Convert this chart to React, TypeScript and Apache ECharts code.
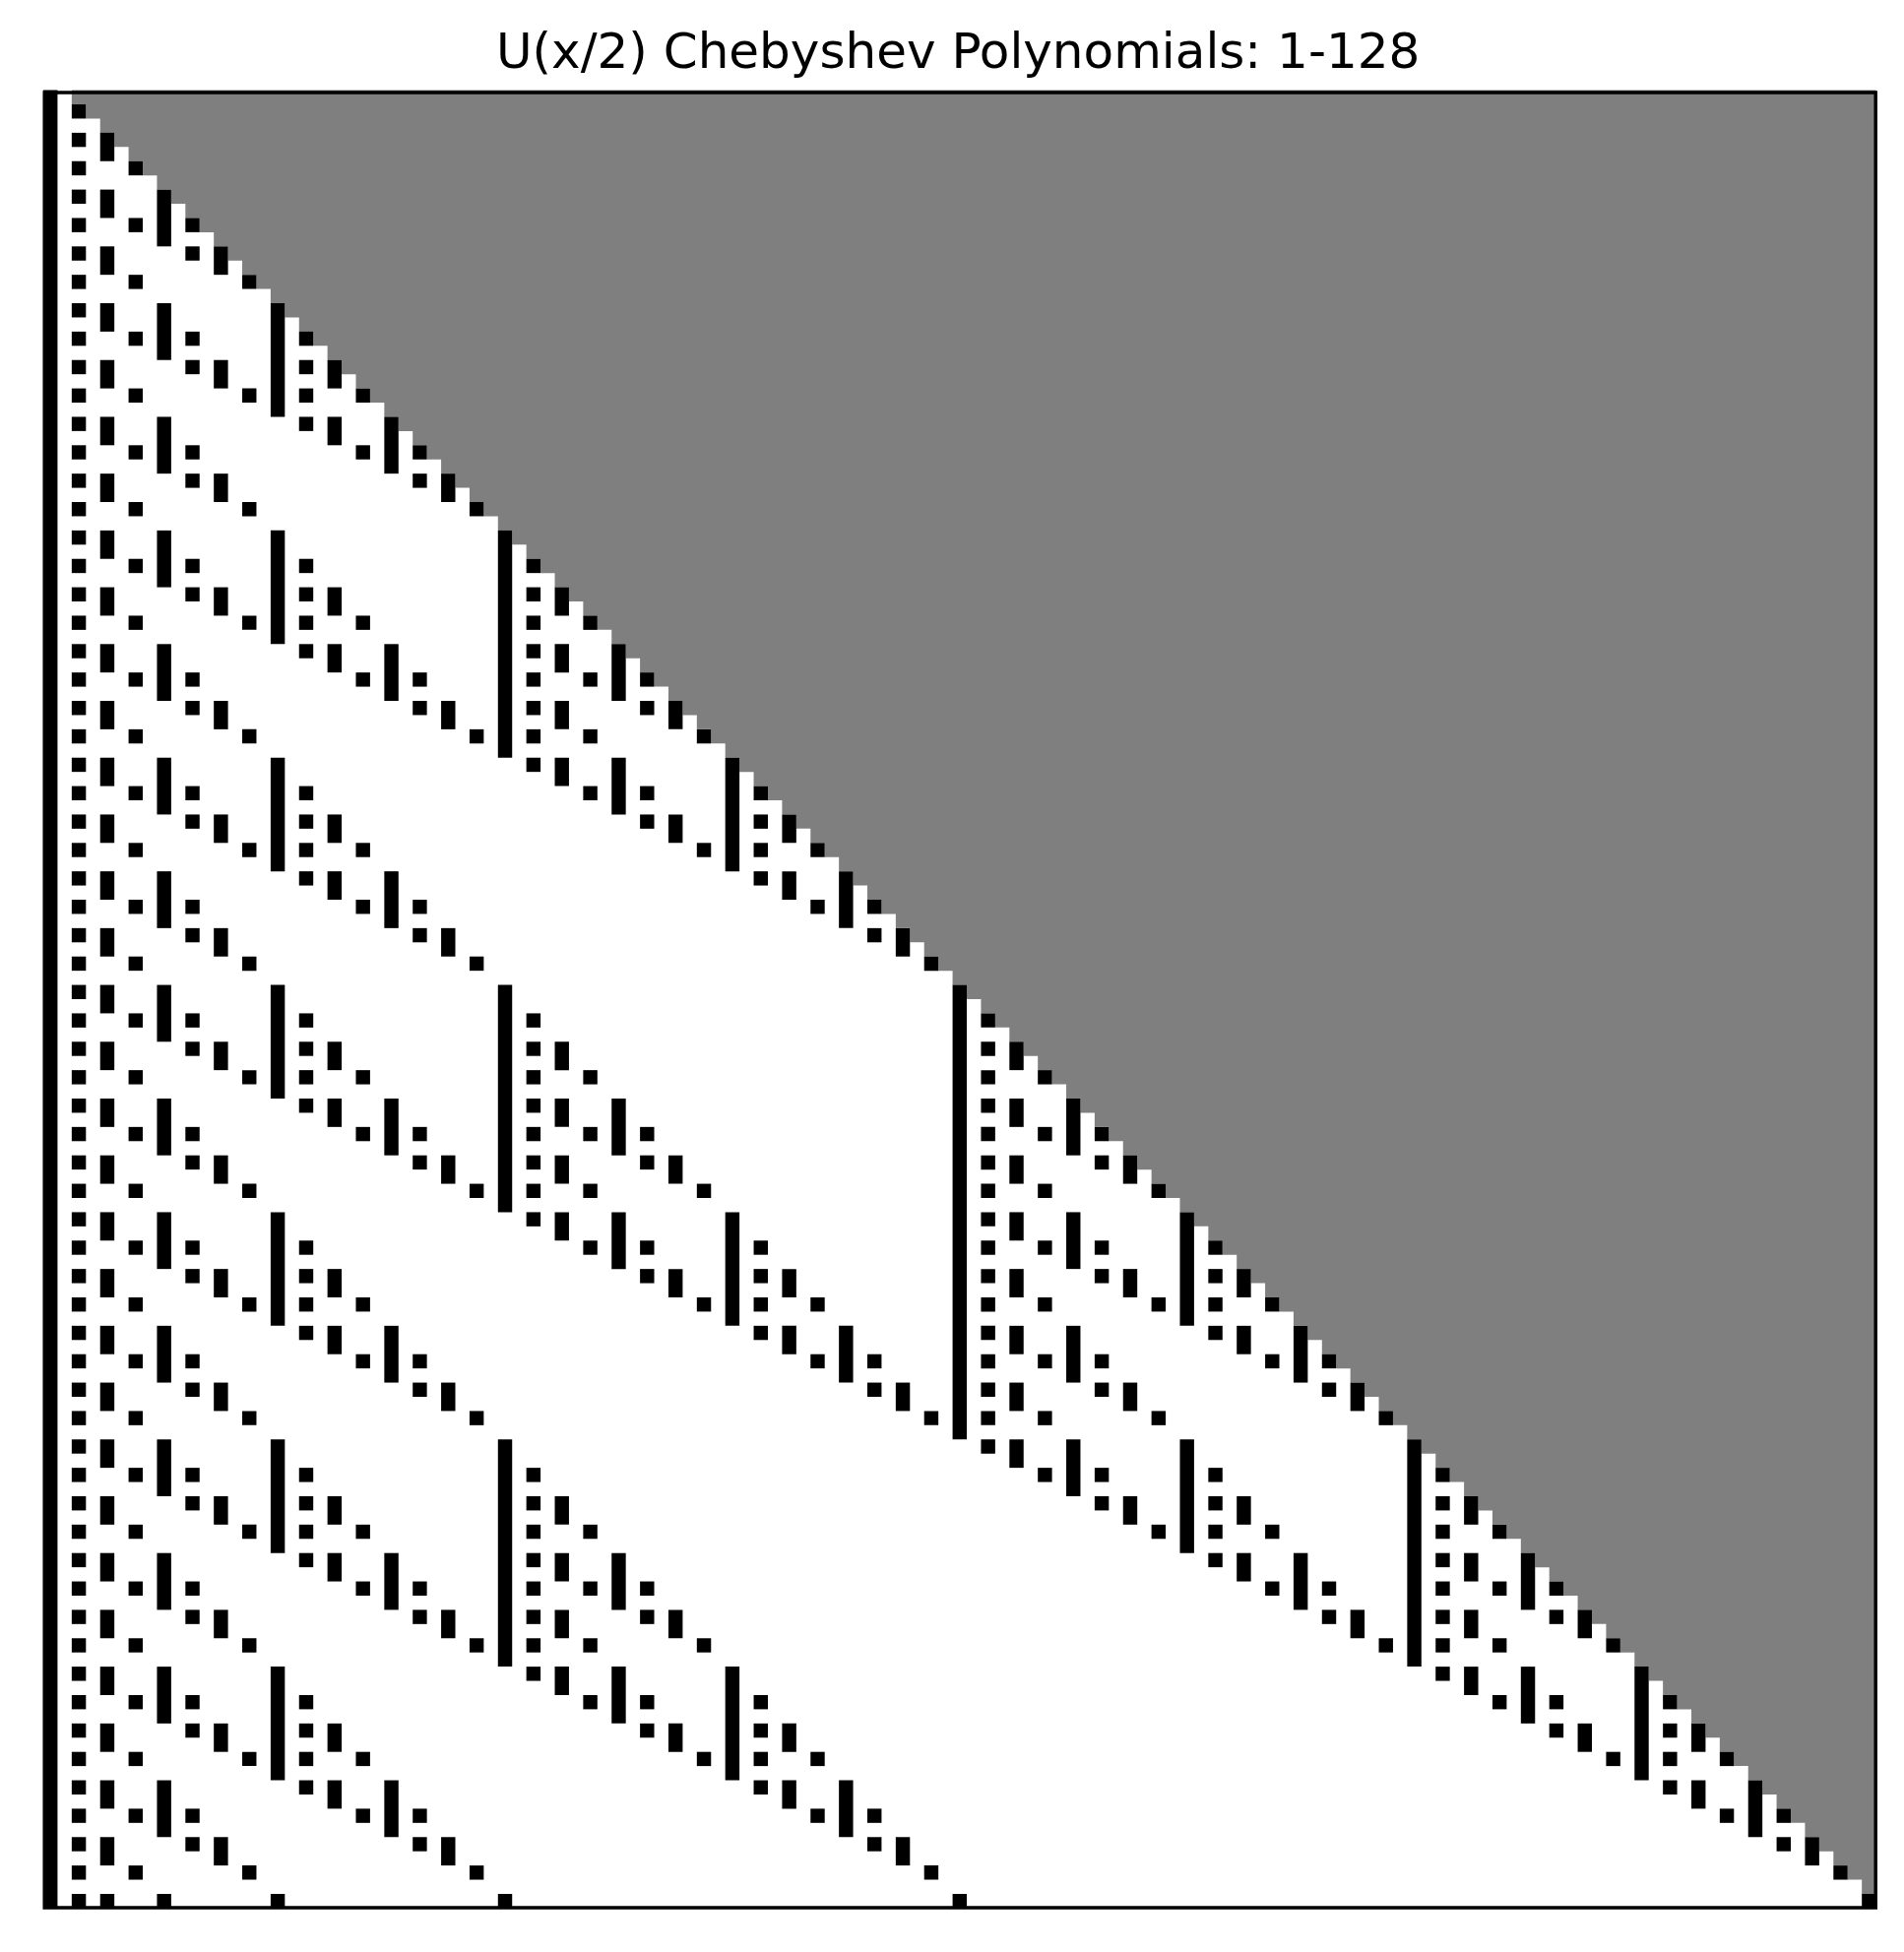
import React, { useEffect, useRef } from "react";
import * as echarts from "echarts";

// Polynomials shown: U_n(x/2) for n = 1..128, coefficients mod 2, highest power first
const TITLE = "U(x/2) Chebyshev Polynomials: 1-128";
const N_FIRST = 1;
const N_LAST = 128;
const N_COLS = N_LAST + 1; // coefficient columns (degree 128 has 129 coefficients)

// Parity of U_n(x/2) coefficients, by the recurrence U_n = x*U_{n-1} - U_{n-2}
function parityRows(): number[][] {
  let prev: number[] = [1]; // U_0
  let cur: number[] = [0, 1]; // U_1 (ascending powers)
  const rows: number[][] = [];
  for (let n = 1; n <= N_LAST; n++) {
    if (n >= N_FIRST) rows.push(cur.slice().reverse());
    const next = new Array(n + 2).fill(0);
    for (let k = 0; k < cur.length; k++) next[k + 1] ^= cur[k];
    for (let k = 0; k < prev.length; k++) next[k] ^= prev[k];
    prev = cur;
    cur = next;
  }
  return rows;
}

const ROWS = parityRows();
const DEGREES = ROWS.map((r) => r.length - 1);

// vertical runs of odd coefficients: [column, rowStart, rowEnd(exclusive)]
const BLACK_RUNS: number[][] = [];
for (let c = 0; c < N_COLS; c++) {
  let start = -1;
  for (let r = 0; r <= ROWS.length; r++) {
    const on = r < ROWS.length && c <= DEGREES[r] && ROWS[r][c] === 1;
    if (on && start < 0) start = r;
    if (!on && start >= 0) {
      BLACK_RUNS.push([c, start, r]);
      start = -1;
    }
  }
}

// masked (beyond degree) region outline in data coordinates
const GRAY_POINTS: number[][] = [[N_COLS, 0], [N_COLS, ROWS.length]];
for (let r = ROWS.length - 1; r >= 0; r--) {
  GRAY_POINTS.push([DEGREES[r] + 1, r + 1]);
  GRAY_POINTS.push([DEGREES[r] + 1, r]);
}

export default function App() {
  const ref = useRef<HTMLDivElement>(null);
  useEffect(() => {
    const chart = echarts.init(ref.current!, null, { renderer: "svg" });
    chart.setOption({
      animation: false,
      backgroundColor: "#ffffff",
      title: {
        text: TITLE,
        left: 504,
        top: 26.5,
        padding: 0,
        textStyle: {
          fontFamily: "DejaVu Sans",
          fontSize: 50,
          fontWeight: "normal",
          color: "#000",
        },
      },
      grid: {
        left: 44,
        top: 91.6,
        width: 1861.6,
        height: 1846.8,
        show: true,
        backgroundColor: "#ffffff",
        borderWidth: 0,
      },
      xAxis: {
        type: "value",
        min: 0,
        max: N_COLS,
        show: false,
      },
      yAxis: {
        type: "value",
        min: 0,
        max: ROWS.length,
        inverse: true,
        show: false,
      },
      graphic: [
        {
          type: "rect",
          z: 100,
          shape: { x: 45.2, y: 94, width: 1860, height: 1844 },
          style: { fill: "none", stroke: "#000", lineWidth: 3.5 },
        },
      ],
      series: [
        {
          type: "custom",
          coordinateSystem: "cartesian2d",
          data: [[0, 0]],
          encode: { x: 0, y: 1 },
          renderItem: (_p: any, api: any) => ({
            type: "polygon",
            shape: { points: GRAY_POINTS.map((p) => api.coord(p)) },
            style: { fill: "#7f7f7f", stroke: "none" },
          }),
        },
        {
          type: "custom",
          coordinateSystem: "cartesian2d",
          data: BLACK_RUNS,
          encode: { x: 0, y: 1 },
          renderItem: (_p: any, api: any) => {
            const c = api.value(0);
            const r0 = api.value(1);
            const r1 = api.value(2);
            const p0 = api.coord([c, r0]);
            const p1 = api.coord([c + 1, r1]);
            return {
              type: "rect",
              shape: {
                x: p0[0],
                y: p0[1],
                width: p1[0] - p0[0],
                height: p1[1] - p0[1],
              },
              style: { fill: "#000", stroke: "none" },
            };
          },
        },
      ],
    });
    return () => chart.dispose();
  }, []);
  return (
    <div
      ref={ref}
      style={{ position: "absolute", left: 0, top: 0, width: 1934, height: 1983 }}
    />
  );
}
